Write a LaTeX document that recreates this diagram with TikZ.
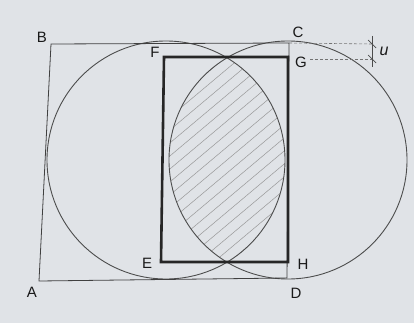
\documentclass[tikz,border=0pt]{standalone}
\usepackage{fontspec}
\setmainfont{Liberation Sans}
\usetikzlibrary{calc}
\begin{document}
\begin{tikzpicture}[x=1pt,y=-1pt,
  lbl/.style={font=\fontsize{15}{17}\selectfont, text=black!90, inner sep=0pt},
  thinline/.style={draw=black!75, line width=0.8pt},
  circ/.style={draw=black!70, line width=0.9pt},
  rectline/.style={draw=black!85, line width=2.6pt},
  hatch/.style={draw=black!40, line width=0.5pt},
  dimdash/.style={draw=black!55, line width=0.6pt, dash pattern=on 3pt off 2pt},
  dimline/.style={draw=black!70, line width=0.7pt}]
\fill[fill={rgb,255:red,224;green,227;blue,231}] (0,0) rectangle (414,323);
\useasboundingbox (0,0) rectangle (414,323);
% corners
\coordinate (A) at (39,281);
\coordinate (B) at (51,44);
\coordinate (C) at (289,43);
\coordinate (D) at (287,278);
\coordinate (F) at (164,57);
\coordinate (G) at (288,57);
\coordinate (H) at (288,262);
\coordinate (E) at (161,262);
\coordinate (O1) at (166,160);
\coordinate (O2) at (288,160);
% hatching
\begin{scope}
  \clip (O1) circle (119);
  \clip (O2) circle (119);
  \foreach \k in {-16,...,16} {
    \draw[hatch] (127,160+\k*13+84) -- (327,160+\k*13-84);
  }
\end{scope}
% circles
\draw[circ] (O1) circle (119);
\draw[circ] (O2) circle (119);
% square
\draw[thinline] (A) -- (B) -- (C) -- (D) -- cycle;
% rectangle
\draw[rectline] (E) -- (F) -- (G) -- (H) -- cycle;
% dimension u
\coordinate (u1) at (372,44);
\coordinate (u2) at (372,59);
\coordinate (g2) at (310,59);
\coordinate (ut) at (372,36);
\coordinate (ub) at (372,67);
\draw[dimdash] (C) -- (u1);
\draw[dimdash] (g2) -- (u2);
\draw[dimline] (ut) -- (ub);
\draw[dimline] ($(u1)+(-4,-4)$) -- ($(u1)+(4,4)$);
\draw[dimline] ($(u2)+(-4,-4)$) -- ($(u2)+(4,4)$);
\node[lbl, font=\fontsize{16}{17}\selectfont\itshape] (lu) at (384,51) {u};
% labels
\node[lbl] (lB) at (42,37) {B};
\node[lbl] (lC) at (298,32) {C};
\node[lbl] (lF) at (155,52) {F};
\node[lbl] (lG) at (301,62) {G};
\node[lbl] (lE) at (147,263) {E};
\node[lbl] (lH) at (303,264) {H};
\node[lbl] (lA) at (32,292) {A};
\node[lbl] (lD) at (296,293) {D};
\end{tikzpicture}
\end{document}
